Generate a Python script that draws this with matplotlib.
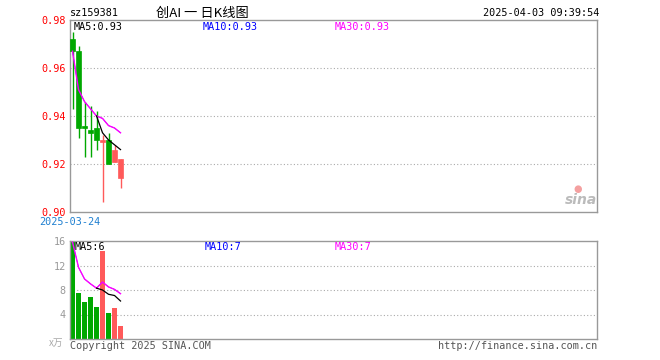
import matplotlib
matplotlib.use("Agg")
import matplotlib.pyplot as plt
import numpy as np

# candle data (price in CNY, volume in 万手)
opens = [0.972, 0.967, 0.936, 0.934, 0.935, 0.929, 0.930, 0.921, 0.914]
highs = [0.975, 0.969, 0.946, 0.944, 0.942, 0.932, 0.933, 0.928, 0.922]
lows = [0.943, 0.931, 0.923, 0.923, 0.926, 0.904, 0.920, 0.921, 0.910]
closes = [0.967, 0.935, 0.935, 0.933, 0.930, 0.930, 0.920, 0.926, 0.922]
volumes = [15.8, 7.5, 6.0, 6.8, 5.2, 14.3, 4.2, 5.0, 2.2]

ma5_price = [np.nan, np.nan, np.nan, np.nan, 0.940, 0.933, 0.930, 0.928, 0.926]
ma10_price = [0.967, 0.951, 0.946, 0.943, 0.940, 0.939, 0.936, 0.935, 0.933]
ma30_price = [0.967, 0.951, 0.946, 0.943, 0.940, 0.939, 0.936, 0.935, 0.933]
ma5_vol = [np.nan, np.nan, np.nan, np.nan, 8.3, 8.0, 7.3, 7.1, 6.2]
ma10_vol = [15.8, 11.7, 9.8, 9.0, 8.3, 9.3, 8.5, 8.1, 7.4]
ma30_vol = [15.8, 11.7, 9.8, 9.0, 8.3, 9.3, 8.5, 8.1, 7.4]

price_ticks = [0.90, 0.92, 0.94, 0.96, 0.98]
vol_ticks = [4, 8, 12, 16]

code = "sz159381"
title = "创AI 一 日K线图"
stamp = "2025-04-03 09:39:54"
first_date = "2025-03-24"

W, H = 660, 360
GREEN = "#00a800"
RED = "#ff5a5a"
FRAME = "#999999"
MONO = "DejaVu Sans Mono"
FS = 7.3

fig = plt.figure(figsize=(W / 100, H / 100), dpi=100)
fig.patch.set_facecolor("white")


def px_axes(x0, y0, x1, y1):
    return fig.add_axes([x0 / W, 1 - y1 / H, (x1 - x0) / W, (y1 - y0) / H])


x = np.arange(len(opens))
xlim = (-0.42, 87.4)

ax = px_axes(70, 20, 597, 212)
axv = px_axes(70, 241, 597, 339)

for a in (ax, axv):
    a.set_xlim(*xlim)
    a.set_xticks([])
    for s in a.spines.values():
        s.set_color(FRAME)
        s.set_linewidth(1)
    a.tick_params(axis="y", length=0, pad=3)

# price panel
ax.set_ylim(0.90, 0.98)
ax.set_yticks(price_ticks)
ax.set_yticklabels([f"{t:.2f}" for t in price_ticks], color="red",
                   family=MONO, fontsize=FS)
for t in price_ticks[1:-1]:
    ax.axhline(t, color="#aaaaaa", lw=0.8, ls=(0, (1, 2)), zorder=0)

body_w = 0.8
for i in range(len(opens)):
    col = RED if closes[i] >= opens[i] else GREEN
    ax.vlines(x[i], lows[i], highs[i], color=col, lw=1, zorder=2)
    lo, hi = min(opens[i], closes[i]), max(opens[i], closes[i])
    ax.bar(x[i], max(hi - lo, 0.0004), bottom=lo, width=body_w,
           color=col, edgecolor=col, lw=0.5, zorder=3)

# MA10 sits under MA30 (same values here), keep it thin so it doesn't tint
ax.plot(x, ma10_price, color="blue", lw=0.4, zorder=4)
ax.plot(x, ma30_price, color="#ff00ff", lw=1.0, zorder=5)
ax.plot(x, ma5_price, color="black", lw=0.9, zorder=6)

# volume panel
axv.set_ylim(0, 16)
axv.set_yticks(vol_ticks)
axv.set_yticklabels([str(t) for t in vol_ticks], color="#999999",
                    family=MONO, fontsize=FS)
for t in vol_ticks[:-1]:
    axv.axhline(t, color="#aaaaaa", lw=0.8, ls=(0, (1, 2)), zorder=0)

vcols = [RED if c >= o else GREEN for o, c in zip(opens, closes)]
axv.bar(x, volumes, width=body_w, color=vcols, zorder=2)
axv.plot(x, ma10_vol, color="blue", lw=0.4, zorder=4)
axv.plot(x, ma30_vol, color="#ff00ff", lw=1.0, zorder=5)
axv.plot(x, ma5_vol, color="black", lw=0.9, zorder=6)

# texts
def ftext(px, py, s, **kw):
    kw.setdefault("family", MONO)
    kw.setdefault("fontsize", FS)
    fig.text(px / W, 1 - py / H, s, **kw)

ftext(70, 13, code, va="center", ha="left")
ftext(202, 13, title, va="center", ha="center", fontsize=9.5,
      family=["Noto Sans CJK SC", "DejaVu Sans"])
ftext(599, 13, stamp, va="center", ha="right")

ftext(74, 27, "MA5:" + f"{ma5_price[-1]:.2f}", va="center", color="black")
ftext(203, 27, "MA10:" + f"{ma10_price[-1]:.2f}", va="center", color="blue")
ftext(335, 27, "MA30:" + f"{ma30_price[-1]:.2f}", va="center", color="#ff00ff")

ftext(75, 247, "MA5:" + f"{ma5_vol[-1]:.0f}", va="center", color="black")
ftext(205, 247, "MA10:" + f"{ma10_vol[-1]:.0f}", va="center", color="blue")
ftext(335, 247, "MA30:" + f"{ma30_vol[-1]:.0f}", va="center", color="#ff00ff")

ftext(70, 222, first_date, va="center", ha="center", color="#1e7fd0")
ftext(63, 343, "x万", va="center", ha="right", color="#aaaaaa", fontsize=7,
      family=["Noto Sans CJK SC", "DejaVu Sans"])
ftext(70, 346, "Copyright 2025 SINA.COM", va="center", ha="left", color="#555555")
ftext(597, 346, "http://finance.sina.com.cn", va="center", ha="right", color="#555555")

# sina watermark
ftext(597, 200, "sina", va="center", ha="right", color="#bbbbbb", fontsize=10,
      family="DejaVu Sans", style="italic", weight="bold")
ftext(578, 189, "●", va="center", ha="center", color="#f4a0a0", fontsize=7,
      family="DejaVu Sans")

fig.savefig("out.png", dpi=100)
